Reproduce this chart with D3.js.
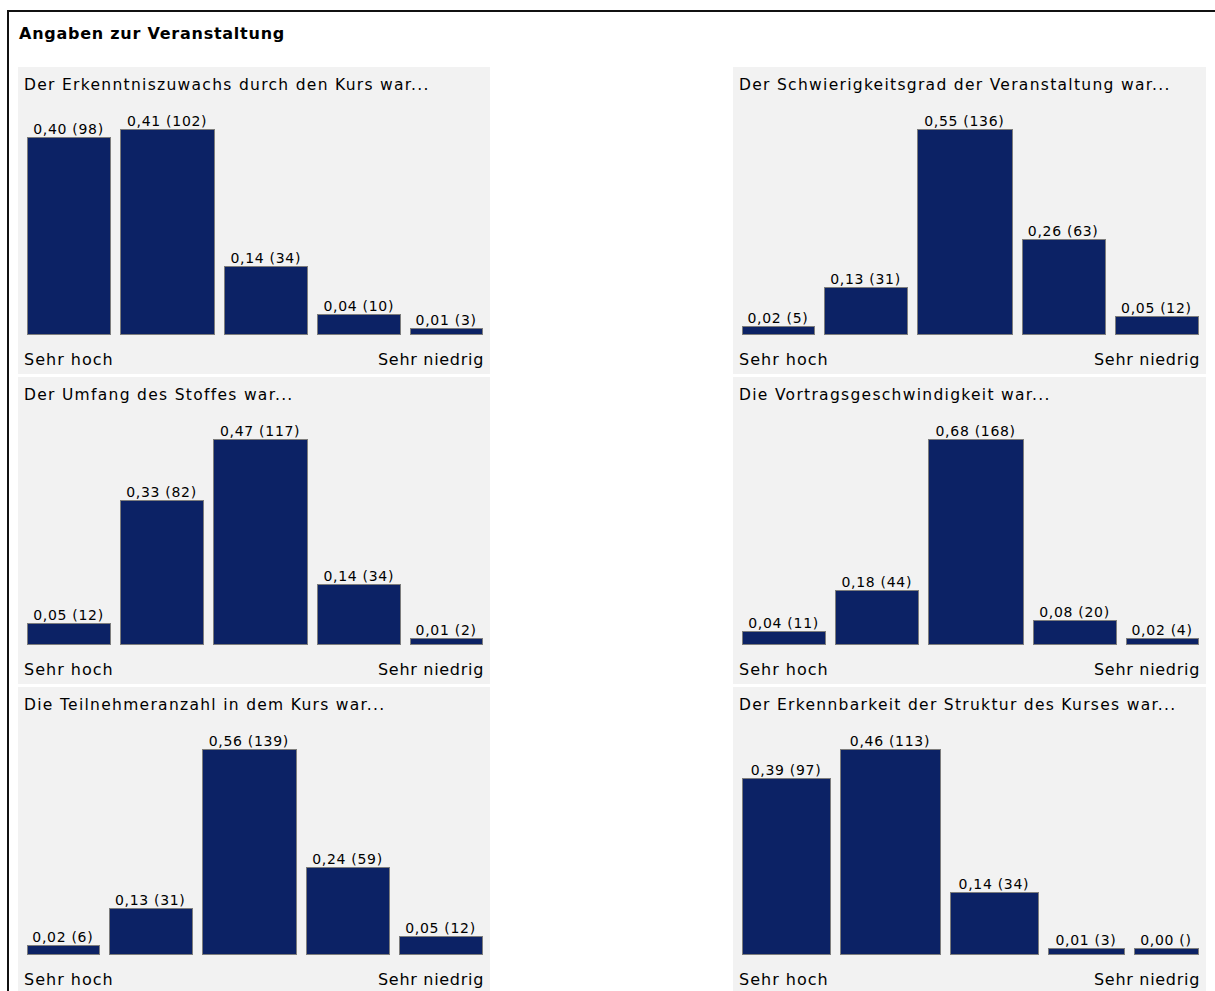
<!DOCTYPE html>
<html><head><meta charset="utf-8">
<script src="https://cdn.jsdelivr.net/npm/d3@7"></script>
<style>body{margin:0;background:#fff}svg{display:block}</style>
</head><body>
<svg id="c" width="1215" height="991"></svg>
<script>
const pageTitle = "Angaben zur Veranstaltung";
const questions = [
  "Der Erkenntniszuwachs durch den Kurs war...",
  "Der Schwierigkeitsgrad der Veranstaltung war...",
  "Der Umfang des Stoffes war...",
  "Die Vortragsgeschwindigkeit war...",
  "Die Teilnehmeranzahl in dem Kurs war...",
  "Der Erkennbarkeit der Struktur des Kurses war..."
];
const shares = [
  [0.40, 0.41, 0.14, 0.04, 0.01],
  [0.02, 0.13, 0.55, 0.26, 0.05],
  [0.05, 0.33, 0.47, 0.14, 0.01],
  [0.04, 0.18, 0.68, 0.08, 0.02],
  [0.02, 0.13, 0.56, 0.24, 0.05],
  [0.39, 0.46, 0.14, 0.01, 0.00]
];
const counts = [
  [98, 102, 34, 10, 3],
  [5, 31, 136, 63, 12],
  [12, 82, 117, 34, 2],
  [11, 44, 168, 20, 4],
  [6, 31, 139, 59, 12],
  [97, 113, 34, 3, null]
];
const lowLabel = "Sehr hoch";
const highLabel = "Sehr niedrig";

const FONT = "DejaVu Sans, Verdana, sans-serif";
const svg = d3.select("#c");

// outer frame (right and bottom edges run off the page)
svg.append("rect").attr("x", 8).attr("y", 11).attr("width", 1300).attr("height", 1100)
  .attr("fill", "none").attr("stroke", "#111").attr("stroke-width", 2);

svg.append("text").attr("x", 19).attr("y", 39).text(pageTitle)
  .attr("font-family", FONT).attr("font-weight", "bold").attr("font-size", 16)
  .attr("letter-spacing", 0.75).attr("fill", "#000");

const panelX = [18, 733], panelW = [472, 473];
const panelTop0 = 67, panelPitch = 310, panelH = 307;
const baseY = 267, topY = 62, gap = 10, padL = 9, padR = 8, minH = 6;
const fmt = v => d3.format(".2f")(v).replace(".", ",");

questions.forEach((q, i) => {
  const col = i % 2, row = Math.floor(i / 2);
  const px = panelX[col], py = panelTop0 + row * panelPitch, pw = panelW[col];
  const g = svg.append("g").attr("transform", `translate(${px},${py})`);
  g.append("rect").attr("width", pw).attr("height", panelH).attr("fill", "#f2f2f2");
  g.append("text").attr("x", 6).attr("y", 22.5).text(q)
    .attr("font-family", FONT).attr("font-size", 15.5).attr("letter-spacing", 1.3).attr("fill", "#000");

  const cs = counts[i];
  const labels = shares[i].map((s, j) => `${fmt(s)} (${cs[j] == null ? "" : cs[j]})`);
  const lab = g.selectAll("text.val").data(labels).join("text").attr("class", "val")
    .text(d => d).attr("font-family", FONT).attr("font-size", 14).attr("letter-spacing", 0.7)
    .attr("fill", "#000").attr("text-anchor", "middle");
  const widths = lab.nodes().map(n => n.getComputedTextLength());
  const total = d3.sum(widths);
  const innerW = pw - padL - padR;
  const x = d3.scaleLinear().domain([0, total]).range([0, innerW - gap * (cs.length - 1)]);
  const cum = d3.cumsum(widths);
  const starts = widths.map((w, j) => padL + x(cum[j] - w) + j * gap);
  const y = d3.scaleLinear().domain([0, d3.max(cs, c => c || 0)]).range([baseY, topY]);
  const h = cs.map(c => Math.max(baseY - y(c || 0), minH));

  g.selectAll("rect.bar").data(cs).join("rect").attr("class", "bar")
    .attr("x", (d, j) => Math.round(starts[j]) + 0.5)
    .attr("y", (d, j) => Math.round(baseY - h[j]) + 0.5)
    .attr("width", (d, j) => Math.round(x(widths[j])))
    .attr("height", (d, j) => Math.round(h[j]))
    .attr("fill", "#0c2265").attr("stroke", "#7d7d7d").attr("stroke-width", 1);

  lab.attr("x", (d, j) => starts[j] + x(widths[j]) / 2)
     .attr("y", (d, j) => Math.round(baseY - h[j]) - 3);

  g.append("text").attr("x", 6).attr("y", 297.5).text(lowLabel)
    .attr("font-family", FONT).attr("font-size", 16).attr("letter-spacing", 1).attr("fill", "#000");
  g.append("text").attr("x", pw - 6).attr("y", 297.5).text(highLabel).attr("text-anchor", "end")
    .attr("font-family", FONT).attr("font-size", 16).attr("letter-spacing", 0.7).attr("fill", "#000");
});
</script>
</body></html>
